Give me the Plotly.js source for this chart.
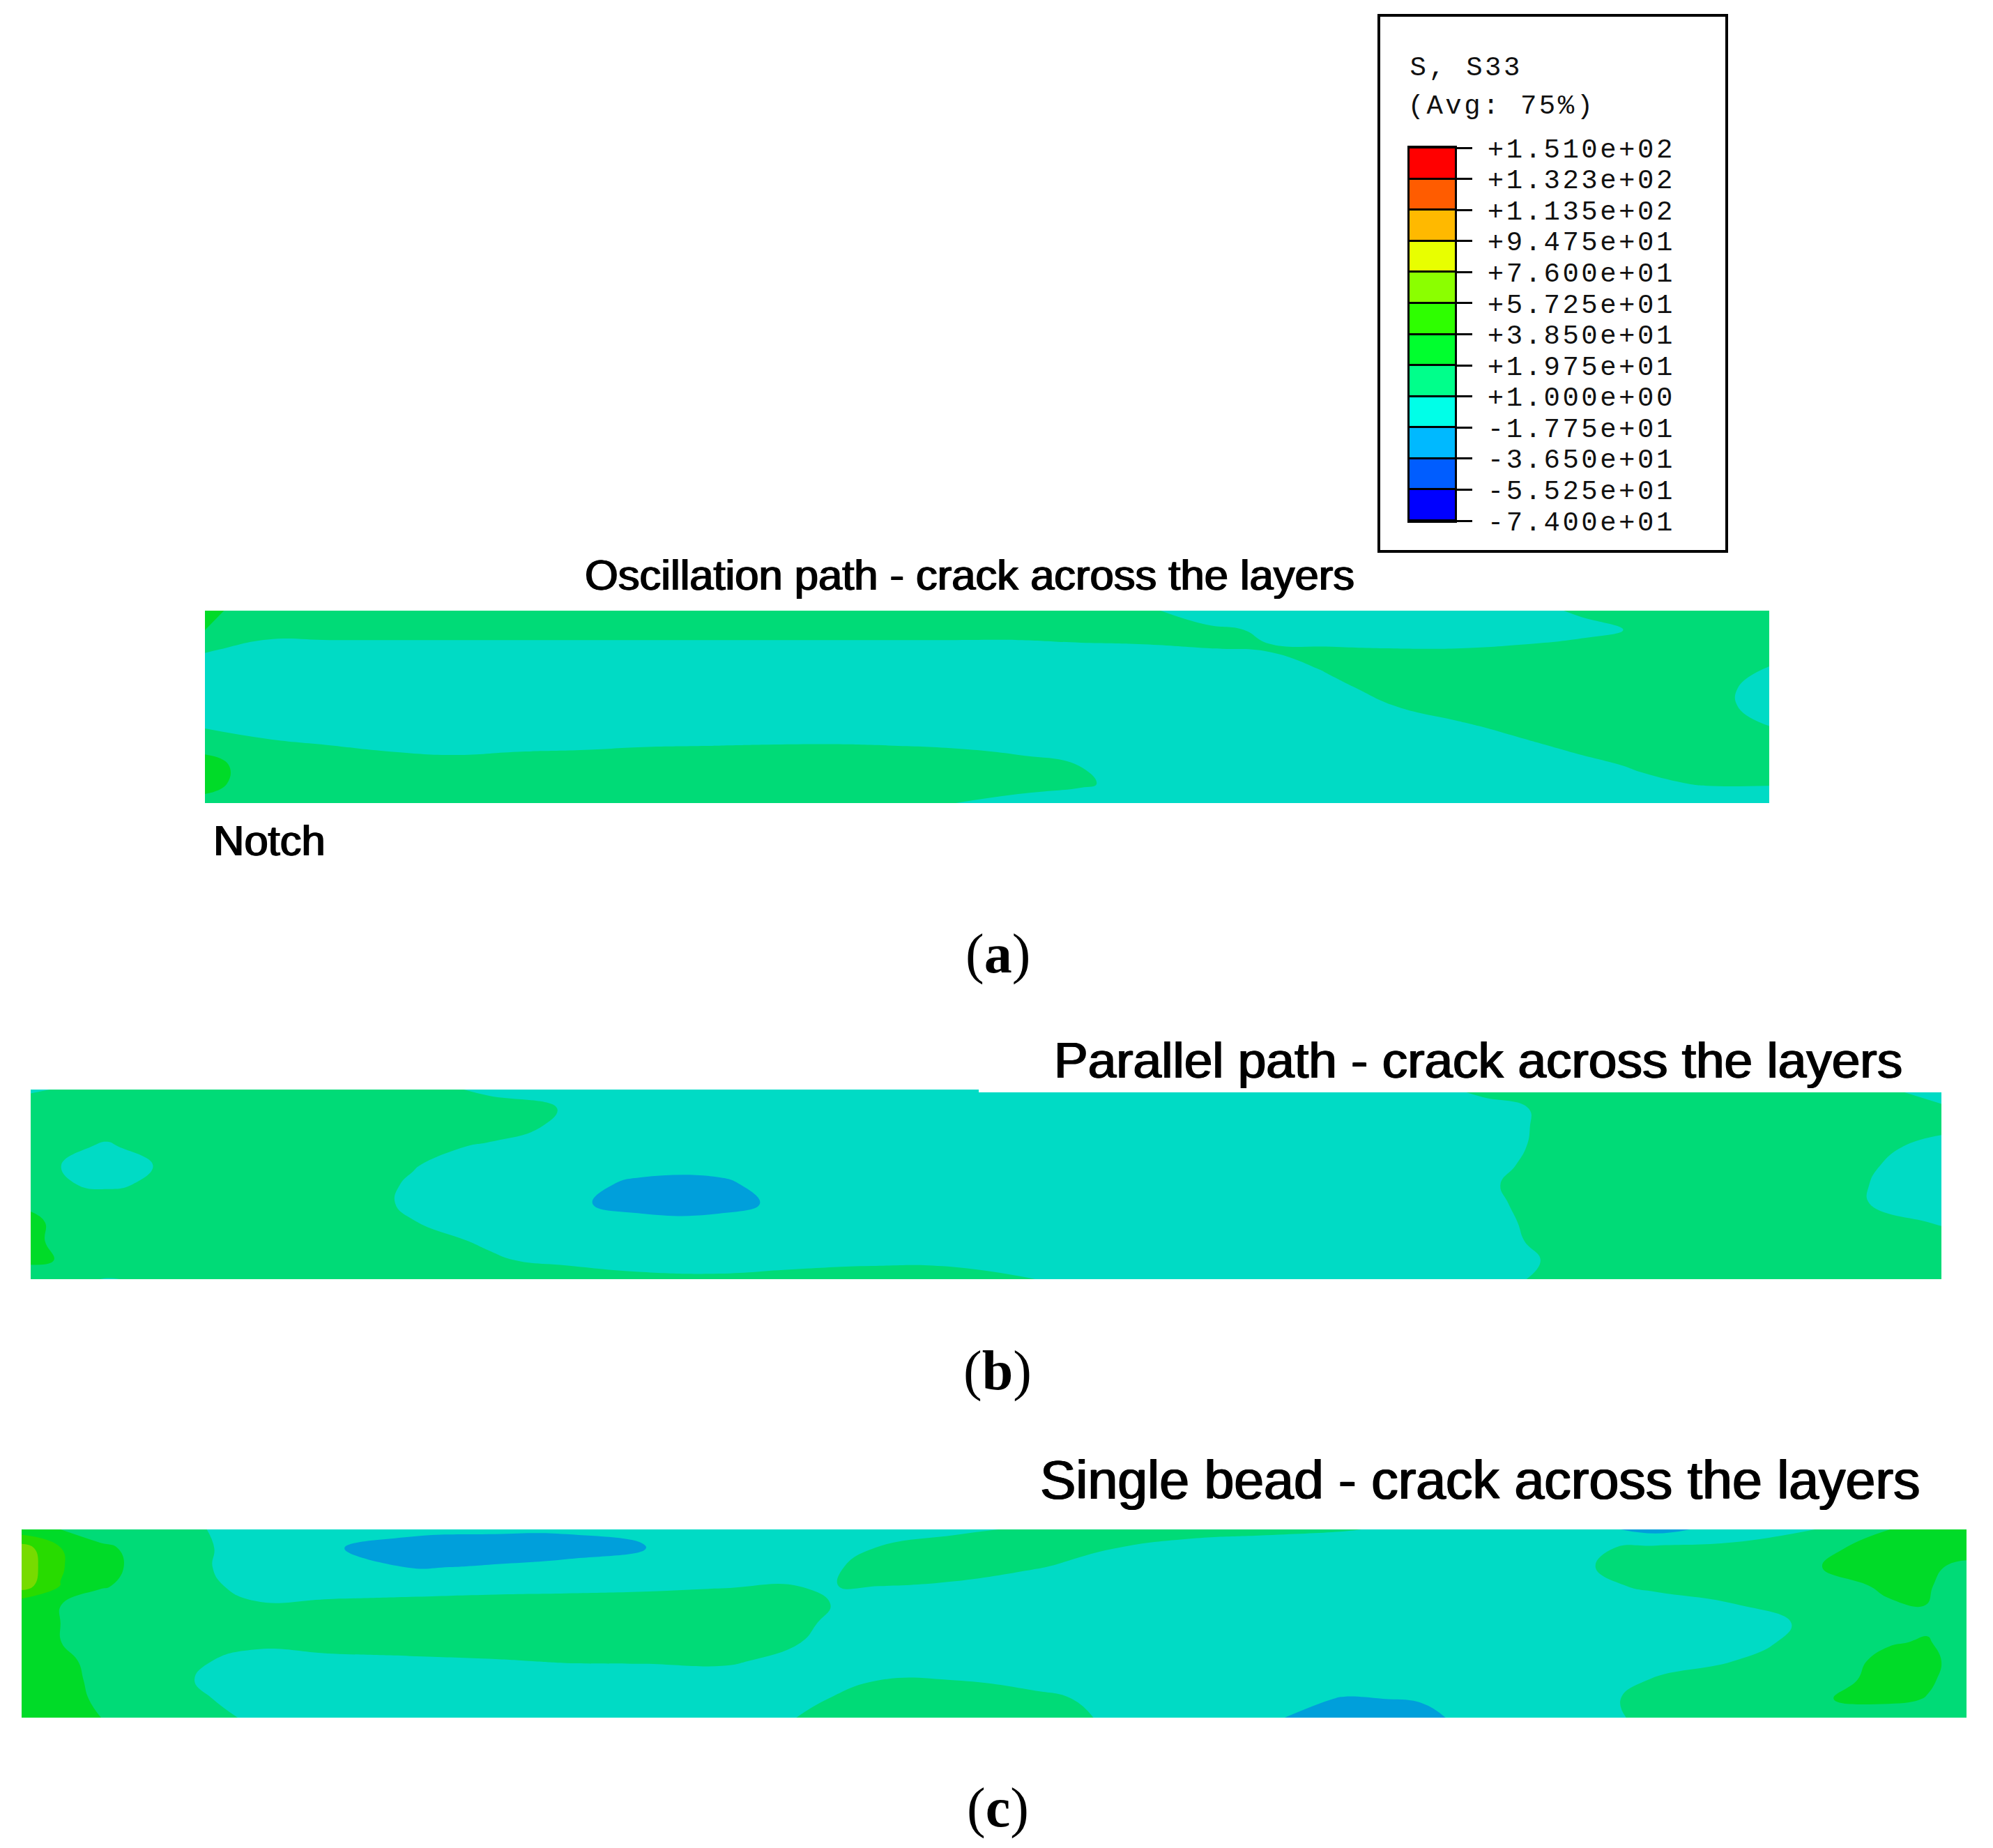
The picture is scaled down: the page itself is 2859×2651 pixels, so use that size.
<!DOCTYPE html>
<html>
<head>
<meta charset="utf-8">
<script src="https://cdn.plot.ly/plotly-3.0.1.min.js"></script>
<style>
html,body{margin:0;padding:0;background:#fff;overflow:hidden}
#plot{width:2859px;height:2651px}
g.y4tick text, .annotation[data-index="0"] text, .annotation[data-index="1"] text{letter-spacing:3.5px}
</style>
</head>
<body>
<div id="plot"></div>
<script>
// ---- legend ----
const legendLevels = [151, 132.3, 113.5, 94.75, 76, 57.25, 38.5, 19.75, 1, -17.75, -36.5, -55.25, -74];
const legendLabels = ["+1.510e+02","+1.323e+02","+1.135e+02","+9.475e+01","+7.600e+01","+5.725e+01","+3.850e+01","+1.975e+01","+1.000e+00","-1.775e+01","-3.650e+01","-5.525e+01","-7.400e+01"];
const legendEdges = [-74,-55.25,-36.5,-17.75,1,19.75,38.5,57.25,76,94.75,113.5,132.25,151];
const legendBands = [-64.6,-45.9,-27.1,-8.4,10.4,29.1,47.9,66.6,85.4,104.1,122.9,141.6];
const bandColors = ["#0000ff","#005dff","#00b9ff","#00ffe8","#00ff8b","#00ff2e","#2eff00","#8bff00","#e8ff00","#ffb900","#ff5c00","#ff0000"];
const shadedColors = ["#0000db","#0050db","#009fdb","#00dbc5","#00db77","#00db28","#28db00","#77db00","#c8db00","#db9f00","#db4f00","#db0000"];

// ---- shared node positions along the specimen (percent of width / of thickness) ----
const xNodes = [0,4,8,12,16,20,24,28,32,36,40,44,48,52,56,60,64,68,72,76,80,84,88,92,96,100];
const xNodesSingle = [0,2,4,8,12,16,20,24,28,32,36,40,44,48,52,56,60,64,68,72,76,80,84,88,92,96,98,100];
const yNodes = [10,9,8,7,6,5,4,3,2,1,0];

// ---- S33 ----
const oscillationZ = [
[24,10,10,10,10,10,10,10,10,10,10,10,10,10,10,4,-7,-8,-8,-8,-8,-4,3,7,10,10],
[20,4,4,4,4,4,4,4,4,4,4,4,4,4,5,7,4,-1,-6,-7,-7,-6,-3,3,9,10],
[2,-2,-1.7,-1.7,-1.7,-1.7,-1.7,-1.7,-1.7,-1.7,-1.7,-1.7,-1.7,-1.7,-1,-1,0.8,1.8,2,1.3,1.3,3,6,9,10,10],
[-3,-8,-8,-8,-8,-8,-8,-8,-8,-8,-8,-8,-8,-8,-8,-8,-7,-4,2.5,8,10,10,10,9,6,0],
[-3,-8,-8,-8,-8,-8,-8,-8,-8,-8,-8,-8,-8,-8,-8,-8,-8,-8,-1.5,5,10,10,10,8,4,-2],
[-3,-8,-8,-8,-8,-8,-8,-8,-8,-8,-8,-8,-8,-8,-8,-8,-8,-8,-8,0.7,6,10,10,8,4,-2],
[-1,-5,-7,-7,-7,-7,-7,-7,-7,-7,-7,-7,-7,-7,-7,-7,-7,-7,-7,-5,-1,4.5,9,10,7,1],
[15,4,1,-1,-2,-1,-0.5,0.5,0.8,1.3,1.5,0.9,0,-3,-7,-8,-8,-8,-8,-8,-5,-1.5,4,8,10,10],
[25,11,7,5,4,5,5.5,6,7,7,7,7,6,5,0.7,-8,-8,-8,-8,-8,-8,-6,-2,3,8,10],
[25,10,9,9,9,9,9,9,9,9,9,8,6,5,3,-5,-8,-8,-8,-8,-8,-8,-8,-1.5,2,2],
[15,8,8,8,8,8,8,8,8,8,8,8,1,-2.5,-7,-8,-8,-8,-8,-8,-8,-8,-8,-8,-8,-8]
];
const parallelZ = [
[0,4,10,10,10,5,-1,-4,-8,-8,-8,-8,-8,-8,-8,-8,-8,-8,-3,3,8,10,10,10,3,-2],
[5,10,10,10,10,9,5,0.5,-8,-8,-8,-8,-8,-8,-8,-8,-8,-8,-8,-2,3,9,10,10,9,2],
[10,4,9,10,10,10,6,-1.5,-8,-8,-8,-8,-8,-8,-8,-8,-8,-8,-8,-3,3.5,9,10,10,8,3],
[5,0,7,9,9,4.5,-0.5,-5,-8,-8,-8,-8,-8,-8,-8,-8,-8,-8,-8,-3,4,9,10,8,4,-2],
[3,-2,3,7,7,1.5,-4,-7,-14,-14,-8,-8,-8,-8,-8,-8,-8,-8,-8,-2,5,10,10,7,2,-3],
[4,-1,5,9,6,0,-5,-14,-20,-20,-12,-8,-8,-8,-8,-8,-8,-8,-8,-0.5,6,10,10,7,1.3,-4],
[18,7,9,9,6,-0.5,-6,-16,-21,-21,-15,-8,-8,-8,-8,-8,-8,-8,-8,-1,5,10,10,7,1.3,-4],
[22,10,10,10,7,1.3,-4,-10,-15,-15,-9,-8,-8,-8,-8,-8,-8,-8,-8,-1.5,4,10,10,10,6,0],
[22,10,10,10,10,5,-0.5,-5,-8,-8,-8,-8,-8,-8,-8,-8,-8,-8,-8,-2,3.5,10,10,10,10,5],
[24,10,10,10,10,9,2.5,-2,-4,-5,-3.5,-2,-2,-3,-8,-8,-8,-8,-8,-3,2.3,10,10,10,10,10],
[6,0.5,3.5,10,10,10,10,9,4,3.5,6,8,7,1.5,-2,-8,-8,-8,-8,-3,4,10,10,10,10,10]
];
const singleBeadZ = [
[28,19.75,10,5,-5.5,-9,-15,-16,-16,-16,-8,-6,-4,-1.5,3,6,6,5,2,-2.5,-6,-10,-24,-10,0,19.5,26,28],
[66,39,24,6,-4.5,-17,-22,-23,-23,-18.2,-8,-4,1.3,7,7,1.3,-4,-8,-8,-8,-8,-2.5,5,6,16.5,24,30,30],
[70,40,26,6,-5,-9,-18.5,-17,-14,-10,-8,-3,4,7,2,-4,-8,-8,-8,-8,-8,-0.2,5,8,18,30,24,14],
[66,38,22,7,-3,-3.5,-2.5,-2,-1.5,-1,0.4,0.9,1.1,-1,-6,-8,-8,-8,-8,-8,-8,-4,4,8,10,23,21,12],
[26,20,10,10,2,3,3.5,4.4,4.8,5.6,5,4.3,-4,-8,-8,-8,-8,-8,-8,-8,-8,-8,-5.5,0.5,9,18,20,10],
[24,19.75,10,10,10,10,10,10,10,10,10,3,-6,-8,-8,-8,-8,-8,-8,-8,-8,-8,-8,-5,3,14,17,10],
[24,20,10,10,4,7,9,10,10,10,8,1.2,-6,-8,-8,-8,-8,-8,-8,-8,-8,-8,-8,-4,5,18.5,21,10],
[26,22,17,5,-4,-3,-2,-0.3,2,2.5,4,-5,-8,-8,-8,-8,-8,-8,-8,-8,-8,-8,-8,1,9,24,24,12],
[26,23,17.5,3,-6,-8,-8,-8,-8,-8,-8,-4,0.8,0.9,-5,-8,-8,-8,-8,-8,-8,-5,2,7,12,25,22,12],
[26,23,18.5,6,-5,-8,-8,-8,-8,-8,-8,-3,8,8,6,-4,-8,-10,-19,-16.5,-8,-4,5,9,18,24,19,10],
[26,24,20,8,-1,-8,-8,-8,-8,-8,-8,1.4,10,10,8,-1,-7,-14,-30,-22,-8,-4,4,8,8,8,8,8]
];

// ---- text ----
const legendTitle = ["S, S33", "(Avg: 75%)"];
const panelTitles = ["Oscillation path - crack across the layers","Parallel path - crack across the layers","Single bead - crack across the layers"];
const notchLabel = "Notch";
const captions = ["(<b>a</b>)","(<b>b</b>)","(<b>c</b>)"];

// ---- page layout helpers ----
const W = 2859, H = 2651;
const fx = (a,b) => [a/W, b/W];
const fy = (top,bot) => [1-bot/H, 1-top/H];
const stepped = colors => {
  const s = [];
  colors.forEach((c,i) => { s.push([i/colors.length,c]); s.push([(i+1)/colors.length,c]); });
  return s;
};
const contourTrace = (x,z,xa,ya) => ({
  type:'contour', x:x, y:yNodes, z:z, xaxis:xa, yaxis:ya,
  zmin:-74, zmax:151, autocontour:false,
  contours:{start:-74,end:151,size:18.75,coloring:'fill',showlines:false},
  line:{width:0,smoothing:1.3},
  colorscale:stepped(shadedColors), showscale:false, hoverinfo:'skip'
});
const hidden = extra => Object.assign({visible:true,showgrid:false,zeroline:false,showticklabels:false,ticks:'',showline:false,fixedrange:true},extra);

const traces = [
  contourTrace(xNodes,oscillationZ,'x','y'),
  contourTrace(xNodes,parallelZ,'x2','y2'),
  contourTrace(xNodesSingle,singleBeadZ,'x3','y3'),
  {type:'heatmap', x:[0,1], y:legendEdges, z:legendBands.map(v=>[v]), xaxis:'x4', yaxis:'y4',
   zmin:-74, zmax:151, colorscale:stepped(bandColors), showscale:false, ygap:3, hoverinfo:'skip'}
];

const mono = {family:'"Liberation Mono", monospace', size:39, color:'#111'};
const sans = s => ({family:'"Liberation Sans", Arial, sans-serif', size:s, color:'#000', shadow:'1px 0px 0px #000, -1px 0px 0px #000'});
const serif = {family:'"Liberation Serif", "Times New Roman", serif', size:80, color:'#000'};
const ann = (text,x,y,font,xanchor) => ({text,font,x:x/W,y:1-y/H,xref:'paper',yref:'paper',xanchor:xanchor||'center',yanchor:'middle',showarrow:false});

const layout = {
  width:W, height:H, margin:{l:0,r:0,t:0,b:0}, paper_bgcolor:'#fff', plot_bgcolor:'#000',
  showlegend:false,
  xaxis:hidden({domain:fx(294,2538),range:[0,100]}),
  yaxis:hidden({domain:fy(876,1152),range:[0,10]}),
  xaxis2:hidden({domain:fx(44,2785),range:[0,100],anchor:'y2'}),
  yaxis2:hidden({domain:fy(1563,1835),range:[0,10],anchor:'x2'}),
  xaxis3:hidden({domain:fx(31,2821),range:[0,100],anchor:'y3'}),
  yaxis3:hidden({domain:fy(2194,2464),range:[0,10],anchor:'x3'}),
  xaxis4:hidden({domain:fx(2022,2087),range:[0,1],anchor:'y4',showline:true,linecolor:'#000',linewidth:3,mirror:true}),
  yaxis4:{domain:fy(212,747),range:[-74,151],anchor:'x4',side:'right',showgrid:false,zeroline:false,
    tickmode:'array',tickvals:legendLevels,ticktext:legendLabels,ticks:'outside',ticklen:22,tickwidth:3,tickcolor:'#000',
    ticklabelstandoff:14,tickfont:mono,showline:true,linecolor:'#000',linewidth:3,mirror:true,fixedrange:true},
  shapes:[
    {type:'rect',xref:'paper',yref:'paper',x0:1978/W,x1:2477/W,y0:1-791/H,y1:1-22/H,line:{color:'#000',width:4},fillcolor:'rgba(0,0,0,0)'},
    {type:'rect',xref:'paper',yref:'paper',x0:1404/W,x1:2785/W,y0:1-1567/H,y1:1-1560/H,line:{width:0},fillcolor:'#fff'}
  ],
  annotations:[
    ann(legendTitle[0],2031,98,mono,'left'),
    ann(legendTitle[1],2035,153,mono,'left'),
    ann(panelTitles[0],1391,824,sans(61.5)),
    ann(panelTitles[1],2120,1520,sans(73)),
    ann(panelTitles[2],2123,2123,sans(77)),
    ann(notchLabel,304,1205,sans(61.5),'left'),
    ann(captions[0],1431,1368,serif),
    ann(captions[1],1431,1966,serif),
    ann(captions[2],1431,2593,serif)
  ]
};
Plotly.newPlot('plot',traces,layout,{displayModeBar:false,staticPlot:true});
</script>
</body>
</html>
